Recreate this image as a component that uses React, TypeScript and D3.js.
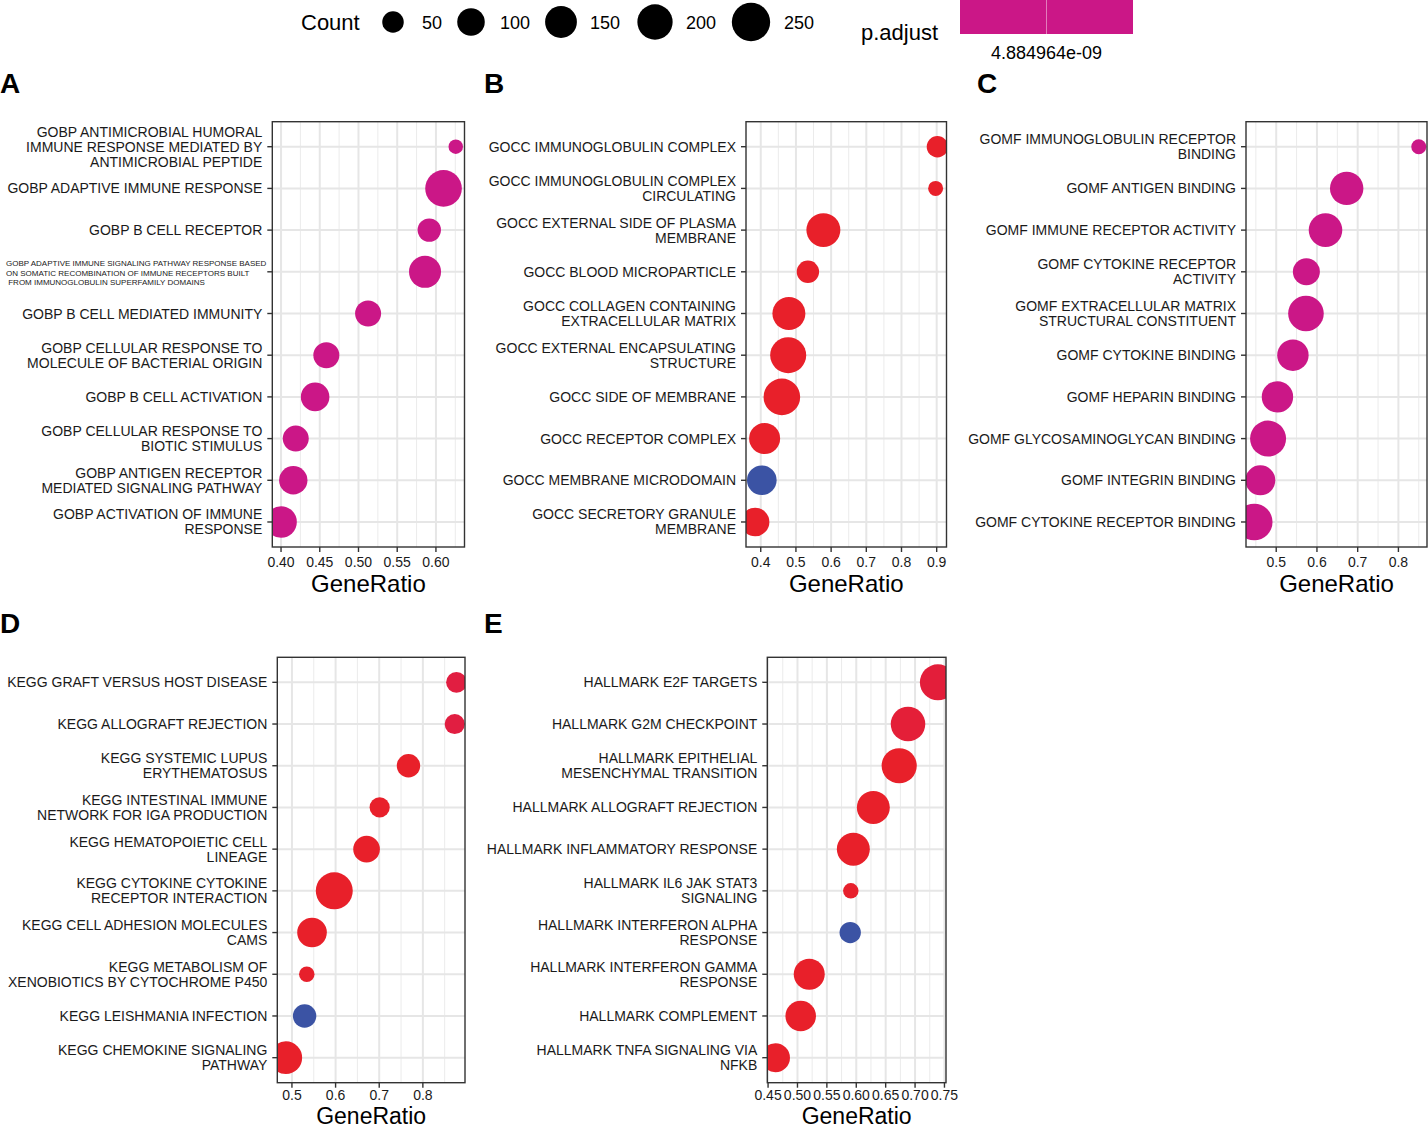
import * as d3 from "d3";

const FONT = "'Liberation Sans', Arial, Helvetica, sans-serif";

// A: GO biological process
const bpTerms = [
  "GOBP ANTIMICROBIAL HUMORAL\nIMMUNE RESPONSE MEDIATED BY\nANTIMICROBIAL PEPTIDE",
  "GOBP ADAPTIVE IMMUNE RESPONSE",
  "GOBP B CELL RECEPTOR",
  "GOBP ADAPTIVE IMMUNE SIGNALING PATHWAY RESPONSE BASED\nON SOMATIC RECOMBINATION OF IMMUNE RECEPTORS BUILT\n FROM IMMUNOGLOBULIN SUPERFAMILY DOMAINS",
  "GOBP B CELL MEDIATED IMMUNITY",
  "GOBP CELLULAR RESPONSE TO\nMOLECULE OF BACTERIAL ORIGIN",
  "GOBP B CELL ACTIVATION",
  "GOBP CELLULAR RESPONSE TO\nBIOTIC STIMULUS",
  "GOBP ANTIGEN RECEPTOR\nMEDIATED SIGNALING PATHWAY",
  "GOBP ACTIVATION OF IMMUNE\nRESPONSE",
];
const bpRatio = [0.6256, 0.6098, 0.5914, 0.5859, 0.5124, 0.4585, 0.444, 0.419, 0.4158, 0.4];
const bpCount = [22, 221, 63, 153, 85, 85, 111, 85, 109, 147];
const bpPadj = Array(10).fill(4.884964e-9);

// B: GO cellular component
const ccTerms = [
  "GOCC IMMUNOGLOBULIN COMPLEX",
  "GOCC IMMUNOGLOBULIN COMPLEX\nCIRCULATING",
  "GOCC EXTERNAL SIDE OF PLASMA\nMEMBRANE",
  "GOCC BLOOD MICROPARTICLE",
  "GOCC COLLAGEN CONTAINING\nEXTRACELLULAR MATRIX",
  "GOCC EXTERNAL ENCAPSULATING\nSTRUCTURE",
  "GOCC SIDE OF MEMBRANE",
  "GOCC RECEPTOR COMPLEX",
  "GOCC MEMBRANE MICRODOMAIN",
  "GOCC SECRETORY GRANULE\nMEMBRANE",
];
const ccRatio = [0.902, 0.897, 0.578, 0.534, 0.48, 0.478, 0.46, 0.411, 0.403, 0.384];
const ccCount = [49, 23, 180, 56, 166, 211, 221, 140, 123, 111];
const ccPadj = [3.1e-9, 2.2e-9, 1.5e-12, 4.0e-9, 2.1e-11, 8.7e-13, 3.3e-12, 6.2e-10, 2.4e-3, 1.8e-10];

// C: GO molecular function
const mfTerms = [
  "GOMF IMMUNOGLOBULIN RECEPTOR\nBINDING",
  "GOMF ANTIGEN BINDING",
  "GOMF IMMUNE RECEPTOR ACTIVITY",
  "GOMF CYTOKINE RECEPTOR\nACTIVITY",
  "GOMF EXTRACELLULAR MATRIX\nSTRUCTURAL CONSTITUENT",
  "GOMF CYTOKINE BINDING",
  "GOMF HEPARIN BINDING",
  "GOMF GLYCOSAMINOGLYCAN BINDING",
  "GOMF INTEGRIN BINDING",
  "GOMF CYTOKINE RECEPTOR BINDING",
];
const mfRatio = [0.85, 0.673, 0.621, 0.574, 0.573, 0.541, 0.503, 0.48, 0.461, 0.446];
const mfCount = [23, 172, 175, 95, 205, 145, 145, 211, 127, 221];
const mfPadj = Array(10).fill(2.316507e-8);

// D: KEGG
const keggTerms = [
  "KEGG GRAFT VERSUS HOST DISEASE",
  "KEGG ALLOGRAFT REJECTION",
  "KEGG SYSTEMIC LUPUS\nERYTHEMATOSUS",
  "KEGG INTESTINAL IMMUNE\nNETWORK FOR IGA PRODUCTION",
  "KEGG HEMATOPOIETIC CELL\nLINEAGE",
  "KEGG CYTOKINE CYTOKINE\nRECEPTOR INTERACTION",
  "KEGG CELL ADHESION MOLECULES\nCAMS",
  "KEGG METABOLISM OF\nXENOBIOTICS BY CYTOCHROME P450",
  "KEGG LEISHMANIA INFECTION",
  "KEGG CHEMOKINE SIGNALING\nPATHWAY",
];
const keggRatio = [0.877, 0.873, 0.767, 0.701, 0.671, 0.597, 0.546, 0.534, 0.529, 0.486];
const keggCount = [45, 42, 63, 42, 91, 227, 123, 24, 63, 161];
const keggPadj = [2.9e-4, 2.9e-4, 4.1e-6, 6.3e-6, 2.2e-6, 1.3e-9, 1.1e-7, 2.0e-5, 2.3e-3, 3.4e-8];

// E: Hallmark
const hmTerms = [
  "HALLMARK E2F TARGETS",
  "HALLMARK G2M CHECKPOINT",
  "HALLMARK EPITHELIAL\nMESENCHYMAL TRANSITION",
  "HALLMARK ALLOGRAFT REJECTION",
  "HALLMARK INFLAMMATORY RESPONSE",
  "HALLMARK IL6 JAK STAT3\nSIGNALING",
  "HALLMARK INTERFERON ALPHA\nRESPONSE",
  "HALLMARK INTERFERON GAMMA\nRESPONSE",
  "HALLMARK COMPLEMENT",
  "HALLMARK TNFA SIGNALING VIA\nNFKB",
];
const hmRatio = [0.7388, 0.688, 0.673, 0.629, 0.595, 0.5907, 0.5897, 0.52, 0.5055, 0.4625];
const hmCount = [211, 189, 198, 166, 166, 24, 49, 140, 134, 117];
const hmPadj = [1.9e-4, 1.6e-4, 3.0e-9, 1.2e-8, 4.4e-8, 2.6e-5, 2.2e-3, 7.5e-7, 3.9e-7, 2.8e-8];

const legendCounts = [50, 100, 150, 200, 250];
const legendPadjLabel = "4.884964e-09";

// size: ggplot-like area palette
const sizeT = d3.scaleLinear().domain([20, 280]).range([0, 1]).clamp(true);
const radiusOf = d3.scaleSqrt().domain([0, 1]).range([6, 20]);
const rad = (c: number) => radiusOf(sizeT(c));

const colorRamp = d3
  .scaleLinear<string>()
  .domain([0, 0.5, 1])
  .range(["#E8202A", "#CB1787", "#3B53A4"])
  .interpolate(d3.interpolateRgb);

// top row has room below; bottom row sits against the page edge
const TOP = { tickDy: 20, titleDy: 45, titleSize: 24 };
const BOTTOM = { tickDy: 17.3, titleDy: 41.4, titleSize: 23 };

const panels = [
  { id: "A", terms: bpTerms, ratio: bpRatio, count: bpCount, padj: bpPadj, box: [272.3, 464.5, 121.7, 547], letter: [0, 93], small: 3, ax: TOP },
  { id: "B", terms: ccTerms, ratio: ccRatio, count: ccCount, padj: ccPadj, box: [746, 946.5, 121.7, 547], letter: [484, 93], small: -1, ax: TOP },
  { id: "C", terms: mfTerms, ratio: mfRatio, count: mfCount, padj: mfPadj, box: [1246, 1427, 121.7, 547], letter: [977, 93], small: -1, ax: TOP },
  { id: "D", terms: keggTerms, ratio: keggRatio, count: keggCount, padj: keggPadj, box: [277.3, 465, 657.3, 1082.7], letter: [0, 633], small: -1, ax: BOTTOM },
  { id: "E", terms: hmTerms, ratio: hmRatio, count: hmCount, padj: hmPadj, box: [767.3, 946, 657.3, 1082.7], letter: [484, 633], small: -1, ax: BOTTOM },
];

function Panel({ p }: { p: any }) {
  const [x0, x1, y0, y1] = p.box;
  const [lo, hi] = d3.extent(p.ratio as number[]) as [number, number];
  const pad = (hi - lo) * 0.05;
  const x = d3.scaleLinear().domain([lo - pad, hi + pad]).range([x0, x1]);
  const y = d3.scalePoint<string>().domain(p.terms).range([y0, y1]).padding(0.6);
  const ticks = x.ticks(5);
  const fmt = x.tickFormat(5);
  const step = ticks[1] - ticks[0];
  const minor = [ticks[0] - step / 2, ...ticks.map((t) => t + step / 2)].filter(
    (v) => v > lo - pad && v < hi + pad
  );
  const [pmin, pmax] = d3.extent(p.padj as number[]) as [number, number];
  const col = (v: number) => colorRamp(pmin === pmax ? 0.5 : (v - pmin) / (pmax - pmin));
  const clipId = `clip-${p.id}`;

  return (
    <g>
      <text x={p.letter[0]} y={p.letter[1]} fontSize={28} fontWeight="bold" fill="#000">
        {p.id}
      </text>
      <clipPath id={clipId}>
        <rect x={x0} y={y0} width={x1 - x0} height={y1 - y0} />
      </clipPath>
      <rect x={x0} y={y0} width={x1 - x0} height={y1 - y0} fill="#fff" />
      {minor.map((v, i) => (
        <line key={"mi" + i} x1={x(v)} x2={x(v)} y1={y0} y2={y1} stroke="#EBEBEB" strokeWidth={1} />
      ))}
      {ticks.map((v, i) => (
        <line key={"ma" + i} x1={x(v)} x2={x(v)} y1={y0} y2={y1} stroke="#E6E6E6" strokeWidth={2} />
      ))}
      {p.terms.map((t: string, i: number) => (
        <line key={"h" + i} x1={x0} x2={x1} y1={y(t)} y2={y(t)} stroke="#E6E6E6" strokeWidth={2} />
      ))}
      <g clipPath={`url(#${clipId})`}>
        {p.terms.map((t: string, i: number) => (
          <circle key={"c" + i} cx={x(p.ratio[i])} cy={y(t)} r={rad(p.count[i])} fill={col(p.padj[i])} />
        ))}
      </g>
      <rect x={x0} y={y0} width={x1 - x0} height={y1 - y0} fill="none" stroke="#333" strokeWidth={1.4} />
      {ticks.map((v, i) => (
        <g key={"xt" + i}>
          <line x1={x(v)} x2={x(v)} y1={y1} y2={y1 + 5} stroke="#333" strokeWidth={1.4} />
          <text x={x(v)} y={y1 + p.ax.tickDy} fontSize={14} textAnchor="middle" fill="#1a1a1a">
            {fmt(v)}
          </text>
        </g>
      ))}
      {p.terms.map((t: string, i: number) => {
        const yc = y(t) as number;
        const lines = t.split("\n");
        const small = i === p.small;
        const lh = small ? 9.5 : 15;
        return (
          <g key={"yt" + i}>
            <line x1={x0 - 5} x2={x0} y1={yc} y2={yc} stroke="#333" strokeWidth={1.4} />
            {lines.map((ln, j) => (
              <text
                key={j}
                x={small ? 6 : x0 - 10}
                y={yc + (j - (lines.length - 1) / 2) * lh + (small ? 1.5 : 0)}
                fontSize={small ? 8 : 14}
                textAnchor={small ? "start" : "end"}
                dominantBaseline="central"
                fill="#1a1a1a"
                style={{ whiteSpace: "pre" }}
              >
                {ln}
              </text>
            ))}
          </g>
        );
      })}
      <text x={(x0 + x1) / 2} y={y1 + p.ax.titleDy} fontSize={p.ax.titleSize} textAnchor="middle" fill="#000">
        GeneRatio
      </text>
    </g>
  );
}

export default function App() {
  const legendX = [393, 471, 561, 655, 751];
  return (
    <svg
      width={1428}
      height={1129}
      style={{ position: "absolute", left: 0, top: 0, display: "block", fontFamily: FONT }}
    >
      <rect width={1428} height={1129} fill="#fff" />
      {/* Count legend */}
      <text x={301} y={30} fontSize={22} fill="#000">
        Count
      </text>
      {legendCounts.map((c, i) => (
        <g key={c}>
          <circle cx={legendX[i]} cy={22} r={rad(c)} fill="#000" />
          <text x={legendX[i] + 29 + (i > 2 ? i - 2 : 0) * 2} y={29} fontSize={18} fill="#000">
            {c}
          </text>
        </g>
      ))}
      {/* p.adjust legend */}
      <text x={861} y={40} fontSize={22} fill="#000">
        p.adjust
      </text>
      <rect x={960} y={0} width={173} height={34} fill={colorRamp(0.5)} />
      <line x1={1046.5} x2={1046.5} y1={0} y2={34} stroke="#fff" strokeWidth={0.8} opacity={0.55} />
      <text x={1046.5} y={59} fontSize={18} textAnchor="middle" fill="#000">
        {legendPadjLabel}
      </text>
      {panels.map((p) => (
        <Panel key={p.id} p={p} />
      ))}
    </svg>
  );
}
